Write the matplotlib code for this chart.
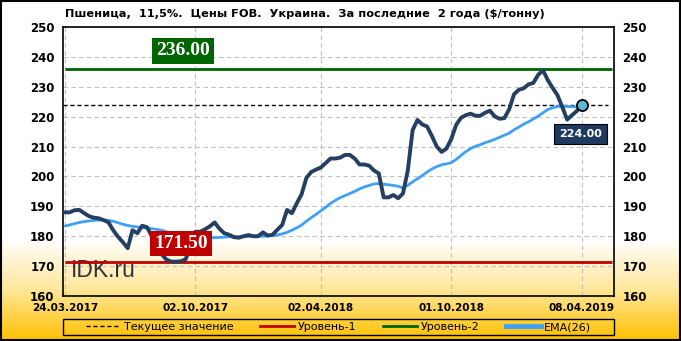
import numpy as np
import matplotlib
matplotlib.use("Agg")
import matplotlib.pyplot as plt
from matplotlib.colors import LinearSegmentedColormap
from matplotlib.lines import Line2D
from matplotlib.patches import Rectangle

# weekly FOB prices, wheat 11.5%, Ukraine ($/t)
price = [188, 188, 188.7, 188.8, 187.7, 186.7, 186.2, 186, 185.4, 184.7,
         182, 179.8, 178, 176, 182, 181, 183.5, 183, 180, 177,
         174, 172.2, 171.5, 171.5, 171.6, 172.3, 176.5, 181.5, 181.5, 182.3,
         183.3, 184.6, 182.5, 181, 180.5, 179.7, 179.5, 180, 180.4, 180,
         180, 181.3, 180.2, 180.5, 182.2, 183.8, 188.8, 187.7, 191, 194,
         199.5, 201.5, 202.3, 203, 204.5, 206, 206, 206.3, 207.2, 207.2,
         206, 204, 204, 203.6, 202, 201, 193, 193, 193.8, 192.7,
         194.3, 202, 215.5, 218.9, 217.4, 216.7, 213.5, 210, 208.2, 209.3,
         212.5, 217.2, 219.6, 220.5, 221, 220.3, 220.3, 221.3, 222, 220.1,
         219.3, 219.5, 222.5, 227.5, 229, 229.5, 230.8, 231.3, 234, 235.5,
         232.2, 229.6, 227.2, 223.2, 219, 220.5, 221.9, 224]

ema26 = [183.4, 183.8, 184.2, 184.6, 184.9, 185.1, 185.3, 185.4, 185.4, 185.3,
         185, 184.5, 184, 183.6, 183.3, 183.1, 182.9, 182.7, 182.5, 182.3,
         182, 181.5, 181, 180.5, 180.2, 179.9, 179.7, 179.5, 179.5, 179.4,
         179.4, 179.5, 179.6, 179.7, 179.8, 179.8, 179.8, 179.9, 179.9, 180,
         180, 180, 180.1, 180.3, 180.4, 180.8, 181.3, 182, 182.8, 183.7,
         185, 186.2, 187.3, 188.5, 189.7, 191, 192, 192.9, 193.6, 194.3,
         195, 195.8, 196.5, 197, 197.5, 197.6, 197.4, 197.2, 197, 196.7,
         196.2, 197, 198.2, 199.2, 200.3, 201.5, 202.5, 203.3, 203.9, 204.2,
         204.6, 205.7, 207, 208.3, 209.3, 210.1, 210.6, 211.3, 211.8, 212.4,
         213.1, 213.8, 214.5, 215.6, 216.5, 217.5, 218.3, 219.2, 220.2, 221.3,
         222.4, 223, 223.4, 223.5, 223.4, 223.3, 223.3, 223.3]

tick_idx = [0, 27, 53, 80, 107]
tick_labels = ["24.03.2017", "02.10.2017", "02.04.2018", "01.10.2018", "08.04.2019"]

current = 224.0
level1 = 171.5
level2 = 236.0

x = np.arange(len(price))

fig = plt.figure(figsize=(6.81, 3.41), dpi=100)

# background: white fading to gold at the bottom
bg = fig.add_axes([0, 0, 1, 1], zorder=-10)
grad = np.linspace(0, 1, 341)
stops = np.clip((grad - 0.70) / 0.30, 0, 1)
bg.imshow(stops[:, None], aspect="auto", cmap=LinearSegmentedColormap.from_list(
    "g", ["#FFFFFF", "#FFE79A", "#FFC000"]), extent=[0, 1, 0, 1], origin="upper")
bg.axis("off")
fig.patches.append(Rectangle((0.002, 0.003), 0.996, 0.994, transform=fig.transFigure,
                             fill=False, edgecolor="black", lw=1.5))

ax = fig.add_axes([63 / 681, 1 - 296 / 341, 551 / 681, 269 / 341])
ax.patch.set_alpha(0)

ax.set_ylim(160, 250)
ax.set_xlim(-0.4, 113.7)
ax.set_yticks(np.arange(160, 251, 10))
ax.set_xticks(tick_idx)
ax.set_xticklabels(tick_labels)
ax.grid(True, color="#BFBFBF", ls=(0, (4, 3)), lw=0.8)
ax.tick_params(length=0, labelright=True, labelsize=8.5, pad=6)
ax.tick_params(axis="x", labelsize=7.5, pad=5)
for lab in ax.get_xticklabels() + ax.get_yticklabels():
    lab.set_fontweight("bold")
for s in ax.spines.values():
    s.set_linewidth(1.2)

ax.hlines(level2, 0, 113.2, color="#006400", lw=2, zorder=3)
ax.hlines(level1, 0, 113.2, color="#C00000", lw=2, zorder=3)
ax.hlines(current, -0.3, 112.5, color="black", lw=1, ls=(0, (3, 2)), zorder=3)

ax.plot(x, ema26, color="#3FA0F5", lw=2, zorder=4, solid_capstyle="round")
ax.plot(x, price, color="#243F60", lw=2.8, zorder=5, solid_joinstyle="round")
ax.plot(x[-1], price[-1], "o", ms=8, mfc="#5BB8D9", mec="black", mew=1.3, zorder=6)

ax.text(24.5, level2 + 6, f"{level2:.2f}", ha="center", va="center", color="white",
        fontsize=14, fontweight="bold", family="Liberation Serif", zorder=7,
        bbox=dict(boxstyle="square,pad=0.22", fc="#006400", ec="none"))
ax.text(24, level1 + 6, f"{level1:.2f}", ha="center", va="center", color="white",
        fontsize=14, fontweight="bold", family="Liberation Serif", zorder=7,
        bbox=dict(boxstyle="square,pad=0.22", fc="#C00000", ec="none"))
ax.text(106.8, current - 9.8, f"{current:.2f}", ha="center", va="center", color="white",
        fontsize=8, fontweight="bold", zorder=7,
        bbox=dict(boxstyle="square,pad=0.45", fc="#1F3A5F", ec="black", lw=0.8))

ax.text(0.0145, 0.07, "IDK.ru", transform=ax.transAxes, family="Liberation Sans",
        fontsize=16.5, color="#333333", va="baseline", ha="left", zorder=2)

fig.text(65 / 681, 1 - 14 / 341,
         "Пшеница,  11,5%.  Цены FOB.  Украина.  За последние  2 года ($/тонну)",
         fontsize=8.2, fontweight="bold", va="center", ha="left")

# legend box
leg_box = (63 / 681, 1 - 335 / 341, 551 / 681, 16 / 341)
fig.patches.append(Rectangle(leg_box[:2], leg_box[2], leg_box[3], transform=fig.transFigure,
                             fill=False, edgecolor="black", lw=1))
handles = [Line2D([], [], color="black", lw=1, ls=(0, (3, 2))),
           Line2D([], [], color="#C00000", lw=2),
           Line2D([], [], color="#006400", lw=2),
           Line2D([], [], color="#3FA0F5", lw=3.5)]
labels = ["Текущее значение", "Уровень-1", "Уровень-2", "ЕМА(26)"]
fig.legend(handles, labels, loc="center", ncol=4, bbox_to_anchor=leg_box,
           fontsize=8, frameon=False, handlelength=3.1, handletextpad=0.3,
           columnspacing=2.4, borderpad=0, borderaxespad=0)

fig.savefig("out.png", dpi=100)
